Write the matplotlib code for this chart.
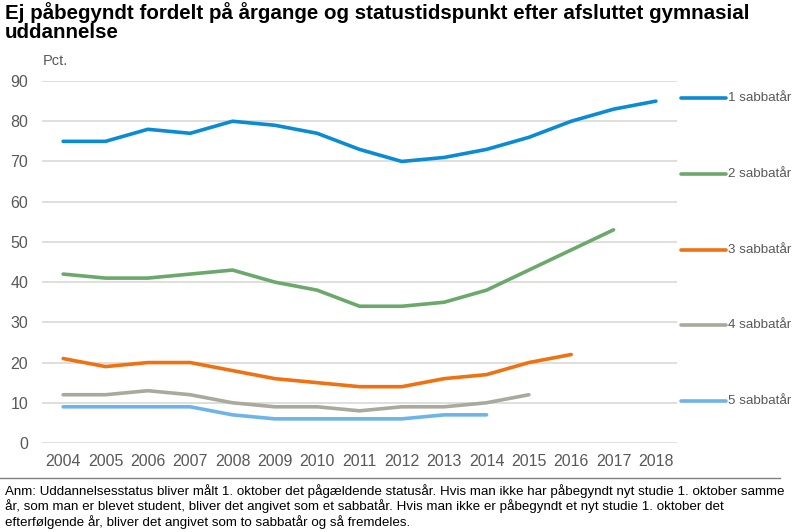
import matplotlib
matplotlib.use('Agg')
import matplotlib.pyplot as plt
from matplotlib.lines import Line2D

plt.rcParams['font.family'] = ['Liberation Sans', 'DejaVu Sans']

years = list(range(2004, 2019))
s1 = [75, 75, 78, 77, 80, 79, 77, 73, 70, 71, 73, 76, 80, 83, 85]
s2 = [42, 41, 41, 42, 43, 40, 38, 34, 34, 35, 38, 43, 48, 53]
s3 = [21, 19, 20, 20, 18, 16, 15, 14, 14, 16, 17, 20, 22]
s4 = [12, 12, 13, 12, 10, 9, 9, 8, 9, 9, 10, 12]
s5 = [9, 9, 9, 9, 7, 6, 6, 6, 6, 7, 7]
labels = ['1 sabbatår', '2 sabbatår', '3 sabbatår', '4 sabbatår', '5 sabbatår']
colors = ['#0A8BD3', '#6BA86B', '#F07111', '#A9A99D', '#6DB5E8']
series = [s1, s2, s3, s4, s5]

tick_col = '#595959'

fig = plt.figure(figsize=(8, 5.32), dpi=100)
ax = fig.add_axes([0.0525, 0.1673, 0.7938, 0.6804])

for s, c in zip(series, colors):
    ax.plot(years[:len(s)], s, color=c, lw=2.6, solid_capstyle='round', zorder=3)

ax.set_xlim(2003.5, 2018.5)
ax.set_ylim(0, 90)
ax.set_yticks(range(0, 91, 10))
ax.set_xticks(years)
ax.grid(axis='y', color='#D9D9D4', lw=1.2)
ax.set_axisbelow(True)
for sp in ax.spines.values():
    sp.set_visible(False)
ax.tick_params(length=0, labelsize=11.5, colors=tick_col, pad=10)
ax.tick_params(axis='x', pad=8)

# title and unit
fig.text(0.006, 0.996, 'Ej påbegyndt fordelt på årgange og statustidspunkt efter afsluttet gymnasial\nuddannelse',
         ha='left', va='top', fontsize=14.8, fontweight='bold', linespacing=1.0)
fig.text(0.054, 0.885, 'Pct.', ha='left', va='center', fontsize=10.5, color=tick_col)

# legend on the right
leg_y = [98, 174, 250, 325, 401]
for lab, c, yp in zip(labels, colors, leg_y):
    yf = 1 - yp / 532
    fig.add_artist(Line2D([681 / 800, 726 / 800], [yf, yf], color=c, lw=2.6,
                          solid_capstyle='round', transform=fig.transFigure))
    fig.text(728 / 800, yf, lab, ha='left', va='center', fontsize=9.6, color=tick_col)

# separator and note
fig.add_artist(Line2D([0, 0.975], [1 - 478 / 532] * 2, color='#808080', lw=1,
                      transform=fig.transFigure))
fig.text(0.006, 1 - 484 / 532,
         'Anm: Uddannelsesstatus bliver målt 1. oktober det pågældende statusår. Hvis man ikke har påbegyndt nyt studie 1. oktober samme\n'
         'år, som man er blevet student, bliver det angivet som et sabbatår. Hvis man ikke er påbegyndt et nyt studie 1. oktober det\n'
         'efterfølgende år, bliver det angivet som to sabbatår og så fremdeles.',
         ha='left', va='top', fontsize=9.6, color='black', linespacing=1.15)

fig.savefig('out.png', dpi=100)
